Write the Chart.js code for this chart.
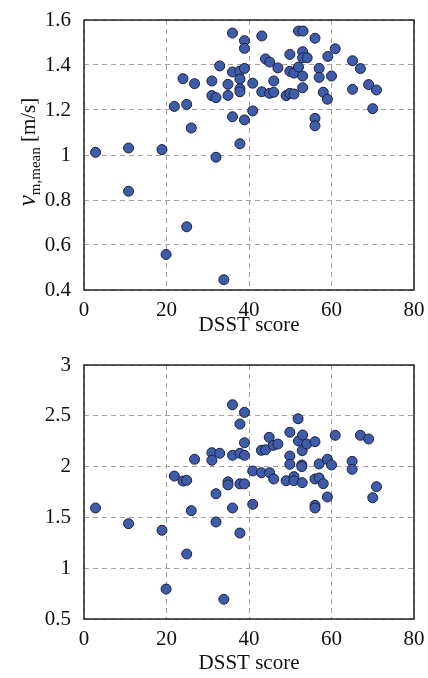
<!DOCTYPE html>
<html>
<head>
<meta charset="utf-8">
<script src="https://cdn.jsdelivr.net/npm/chart.js@4.4.0/dist/chart.umd.min.js"></script>
<style>
  body { margin: 0; background: #fff; width: 428px; height: 678px; overflow: hidden; }
  .box { position: absolute; left: 0; }
</style>
</head>
<body>
<div class="box" style="top:0"><canvas id="top" width="428" height="340"></canvas></div>
<div class="box" style="top:340px"><canvas id="bot" width="428" height="338"></canvas></div>

<script>
// DSST score for each subject (top panel)
const topX = [2.8, 10.8, 10.8, 18.9, 19.9, 21.9, 24.0, 24.9, 24.9, 26.0, 26.8, 31.0, 31.0, 32.0, 32.0, 32.9,
  33.9, 34.9, 34.9, 36.0, 36.0, 36.0, 37.8, 37.8, 37.8, 37.8, 37.8, 38.9, 38.9, 38.9, 38.9, 40.9, 40.9,
  43.1, 43.1, 44.0, 45.0, 45.0, 46.0, 46.0, 47.0, 49.0, 49.9, 49.9, 49.9, 50.9, 50.9, 52.0, 52.0, 53.1,
  53.0, 53.0, 53.0, 53.0, 54.1, 56.0, 56.0, 56.0, 57.0, 57.0, 58.0, 59.0, 59.1, 60.0, 60.9, 65.1, 65.1,
  67.0, 69.0, 70.0, 70.9]
// v m,mean [m/s]
const topY = [1.012, 1.031, 0.839, 1.024, 0.558, 1.216, 1.339, 1.225, 0.681, 1.12, 1.317, 1.329, 1.264, 1.255, 0.99, 1.396,
  0.446, 1.314, 1.265, 1.542, 1.369, 1.17, 1.373, 1.338, 1.295, 1.281, 1.05, 1.508, 1.474, 1.385, 1.156, 1.319, 1.196,
  1.529, 1.281, 1.427, 1.413, 1.274, 1.329, 1.279, 1.387, 1.264, 1.447, 1.372, 1.274, 1.364, 1.271, 1.551, 1.391, 1.551,
  1.459, 1.432, 1.351, 1.299, 1.432, 1.519, 1.163, 1.13, 1.385, 1.345, 1.279, 1.248, 1.438, 1.351, 1.472, 1.419, 1.292,
  1.384, 1.313, 1.206, 1.289]

// bottom panel
const botX = [2.8, 10.8, 18.9, 19.9, 21.9, 24.0, 24.9, 24.9, 26.0, 26.8, 31.0, 31.0, 32.0, 32.0, 32.9, 33.9,
  34.9, 34.9, 36.0, 36.0, 36.0, 37.8, 37.8, 37.8, 37.8, 38.9, 38.9, 38.9, 38.9, 40.9, 40.9, 43.0, 43.0,
  44.0, 44.9, 45.0, 45.9, 46.0, 47.0, 49.0, 49.9, 49.9, 49.9, 50.9, 50.9, 51.9, 52.0, 52.8, 52.8, 52.9,
  52.9, 53.0, 54.0, 56.0, 56.0, 56.0, 56.0, 57.0, 57.0, 58.0, 59.0, 59.0, 60.0, 60.9, 65.0, 65.0, 67.0,
  69.0, 70.0, 70.9]
// v u,mean [m/s]
const botY = [1.593, 1.438, 1.373, 0.795, 1.907, 1.858, 1.865, 1.14, 1.566, 2.072, 2.137, 2.062, 1.733, 1.455, 2.131, 0.694,
  1.85, 1.82, 2.609, 2.111, 1.593, 2.419, 2.131, 1.83, 1.346, 2.534, 2.235, 2.111, 1.83, 1.957, 1.629, 2.16, 1.94,
  2.166, 2.288, 1.94, 2.209, 1.878, 2.222, 1.861, 2.338, 2.104, 2.023, 1.901, 1.861, 2.471, 2.252, 2.016, 2.0, 2.157,
  1.842, 2.311, 2.222, 2.245, 1.878, 1.619, 1.593, 2.026, 1.888, 1.832, 2.072, 1.701, 2.016, 2.308, 2.052, 1.973, 2.308,
  2.272, 1.694, 1.802]

const xTicks = [0, 20, 40, 60, 80]

const serif = "'Liberation Serif', 'Times New Roman', serif"

// y title with subscript, drawn rotated, plus the black frame round the plot
const framePlugin = {
  id: 'ylab',
  afterDraw(chart, args, opts) {
    const ctx = chart.ctx
    const a = chart.chartArea
    ctx.save()
    ctx.strokeStyle = '#222'
    ctx.lineWidth = 1.5
    ctx.strokeRect(a.left, a.top, a.right - a.left, a.bottom - a.top)

    const f1 = 'italic 25px ' + serif
    const f2 = '15px ' + serif
    const f3 = '21px ' + serif
    ctx.font = f1; const w1 = ctx.measureText('v').width
    ctx.font = f2; const w2 = ctx.measureText(opts.sub).width
    ctx.font = f3; const w3 = ctx.measureText(' [m/s]').width
    const total = w1 + w2 + w3

    ctx.translate(opts.x, opts.cy)
    ctx.rotate(-Math.PI / 2)
    ctx.fillStyle = '#111'
    ctx.textBaseline = 'alphabetic'
    ctx.textAlign = 'left'
    let p = -total / 2
    ctx.font = f1; ctx.fillText('v', p, 0); p += w1
    ctx.font = f2; ctx.fillText(opts.sub, p, 5); p += w2
    ctx.font = f3; ctx.fillText(' [m/s]', p, 0)
    ctx.restore()
  }
}

function makeChart(id, xs, ys, yMin, yMax, yStep, padTop, xAxisH, sub, labCy) {
  const pts = xs.map((x, i) => ({x: x, y: ys[i]}))
  return new Chart(document.getElementById(id), {
    type: 'scatter',
    data: {
      datasets: [{
        data: pts,
        pointRadius: 5,
        pointHoverRadius: 5,
        borderWidth: 1,
        backgroundColor: '#3e5ca9',
        borderColor: '#1b2140'
      }]
    },
    options: {
      responsive: false,
      animation: false,
      layout: { padding: { top: padTop, right: 14, left: 0, bottom: 0 } },
      plugins: {
        legend: { display: false },
        tooltip: { enabled: false },
        ylab: { sub: sub, x: 35, cy: labCy }
      },
      scales: {
        x: {
          type: 'linear',
          min: 0, max: 80,
          afterBuildTicks: s => { s.ticks = xTicks.map(v => ({value: v})) },
          // fixed axis box so the plot area lands where the reference has it
          afterFit: s => { s.height = xAxisH; s.paddingLeft = 0; s.paddingRight = 0 },
          grid: { color: '#a99f9f', drawTicks: false },
          border: { display: false, dash: [5, 4] },
          ticks: { padding: 8, color: '#111', font: { family: serif, size: 21 } },
          title: { display: true, text: 'DSST score', color: '#111',
                   font: { family: serif, size: 21 }, padding: { top: 0, bottom: 2 } }
        },
        y: {
          min: yMin, max: yMax,
          ticks: { stepSize: yStep, padding: 13, color: '#111', font: { family: serif, size: 21 },
                   callback: v => String(+v.toFixed(2)) },
          afterFit: s => { s.width = 84; s.paddingTop = 0; s.paddingBottom = 0 },
          grid: { color: '#a99f9f', drawTicks: false },
          border: { display: false, dash: [5, 4] }
        }
      }
    },
    plugins: [framePlugin]
  })
}

makeChart('top', topX, topY, 0.4, 1.6, 0.2, 20, 50, 'm,mean', 152)
makeChart('bot', botX, botY, 0.5, 3, 0.5, 25, 59, 'u,mean', 482)
</script>
</body>
</html>
